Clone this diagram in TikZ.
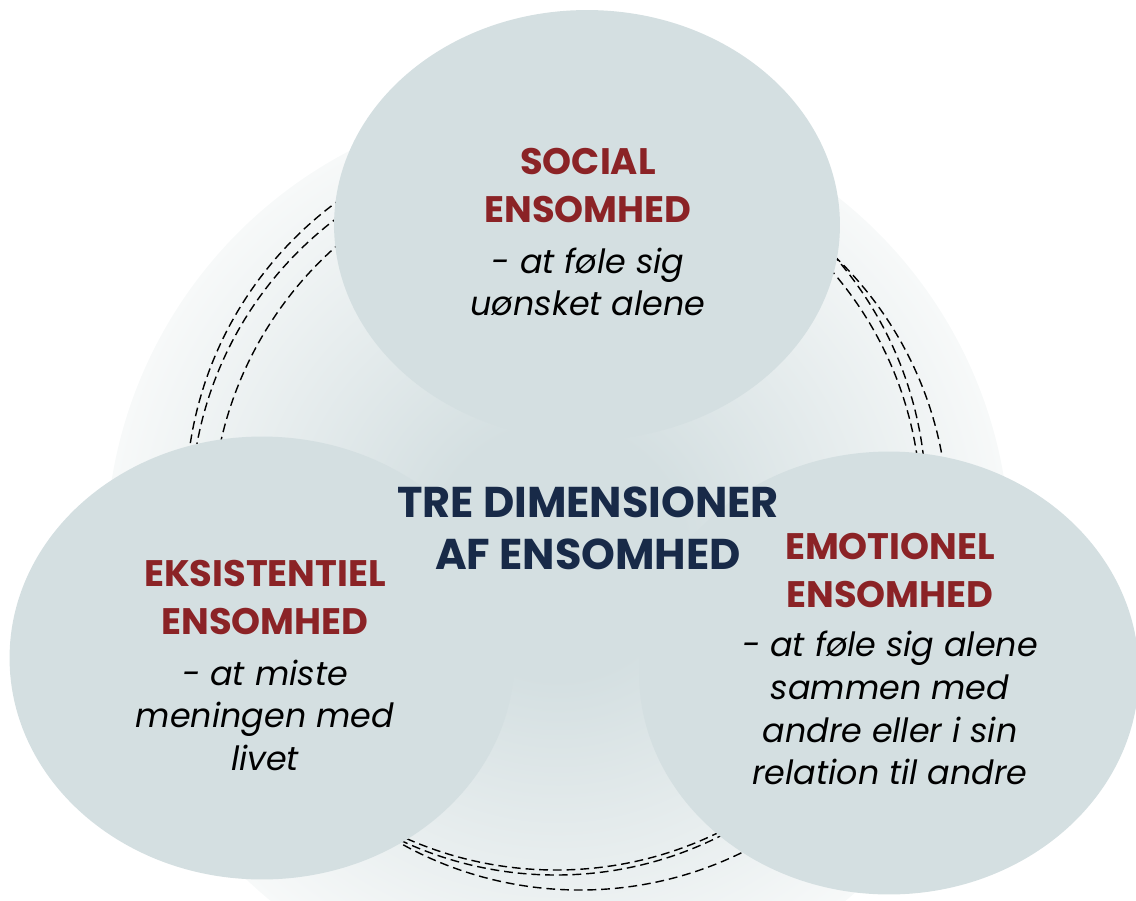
\documentclass[tikz,border=0pt]{standalone}
\usepackage{fontspec}
\setmainfont{Poppins}
\usetikzlibrary{shapes.geometric}
\usetikzlibrary{positioning}

\definecolor{ellfill}{RGB}{212,223,225}
\definecolor{bgedge}{RGB}{247,249,249}
\definecolor{dimred}{RGB}{139,35,38}
\definecolor{dimnavy}{RGB}{24,42,72}

\pgfdeclareradialshading{bgglow}{\pgfpoint{0bp}{0bp}}{color(0bp)=(ellfill); color(7bp)=(ellfill); color(25bp)=(bgedge); color(50bp)=(bgedge)}

\tikzset{
  dimension/.style={ellipse, fill=ellfill, inner sep=0pt},
  ring/.style={dash pattern=on 5pt off 2.8pt, line width=0.8pt},
  dimtitle/.style={align=center, inner sep=0pt, text=dimred, font=\fontsize{21}{27}\selectfont\bfseries},
  dimtext/.style={align=center, inner sep=0pt, font=\fontsize{19}{24.4}\selectfont\itshape},
}

\begin{document}
\begin{tikzpicture}[x=0.02cm, y=-0.02cm]
\useasboundingbox (0, 0) rectangle (1136, 900);
\clip (0, 0) rectangle (1136, 900);

% soft disc behind everything
\shade[shading=bgglow] (558, 552) circle[radius=452];

% dashed rings
\draw[ring] (556, 500) circle[radius=370];
\draw[ring] (556, 510) circle[radius=365];
\draw[ring] (580, 522) circle[radius=368];

\node[dimension, minimum width=10.12cm, minimum height=8.6cm] at (587, 225) (social) {};
\node[dimension, minimum width=10.1cm, minimum height=8.86cm] at (262, 658) (eksist) {};
\node[dimension, minimum width=10cm, minimum height=8.86cm] at (889, 673) (emotion) {};

\node[align=center, inner sep=0pt, anchor=north, text=dimnavy, font=\fontsize{24.5}{30}\selectfont\bfseries] at (588, 486) (tre) {TRE DIMENSIONER\\AF ENSOMHED};

\node[dimtitle, anchor=north] at (588, 148) (socialtitle) {SOCIAL\\ENSOMHED};
\node[dimtext, below=14pt of socialtitle] (socialtext) {- at føle sig\\uønsket alene};

\node[dimtitle, anchor=north] at (265, 560) (eksisttitle) {EKSISTENTIEL\\ENSOMHED};
\node[dimtext, below=14pt of eksisttitle] (eksisttext) {- at miste\\meningen med\\livet};

\node[dimtitle, anchor=north] at (890, 533) (emotiontitle) {EMOTIONEL\\ENSOMHED};
\node[dimtext, below=13pt of emotiontitle] (emotiontext) {- at føle sig alene\\sammen  med\\andre eller i sin\\relation til andre};

\end{tikzpicture}
\end{document}
